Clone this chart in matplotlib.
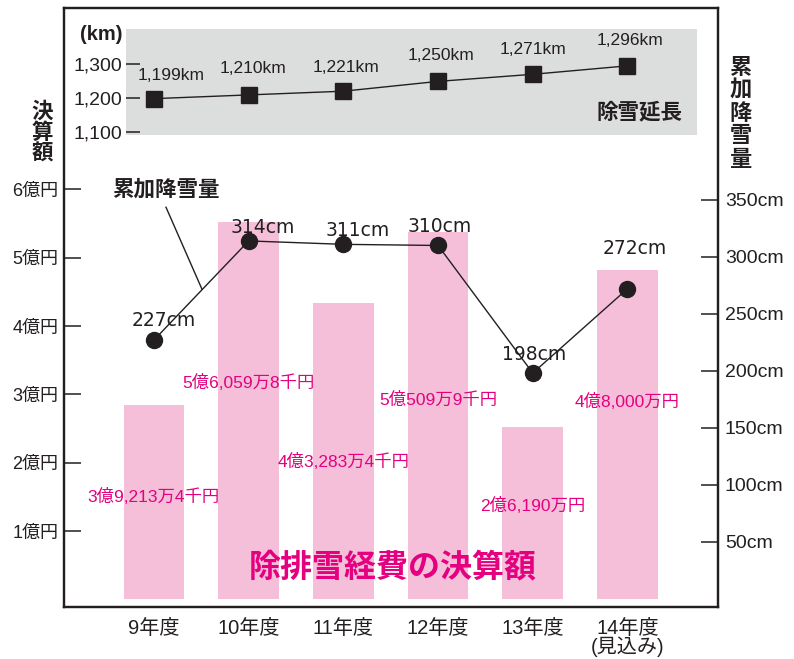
import matplotlib
matplotlib.use("Agg")
import matplotlib.pyplot as plt
from matplotlib import font_manager

# fonts: narrow latin for numbers if we have it, CJK fallback
names = {f.name for f in font_manager.fontManager.ttflist}
num_font = "Liberation Sans Narrow" if "Liberation Sans Narrow" in names else "Liberation Sans"
FAM = [num_font, "Noto Sans CJK JP", "DejaVu Sans"]
CJK = ["Noto Sans CJK JP", "DejaVu Sans"]
plt.rcParams["font.family"] = FAM

# data
years = ["9年度", "10年度", "11年度", "12年度", "13年度", "14年度\n(見込み)"]
cost_drawn = [2.84, 5.52, 4.34, 5.38, 2.52, 4.82]          # bar heights as drawn (億円)
cost_labels = ["3億9,213万4千円", "5億6,059万8千円", "4億3,283万4千円",
               "5億509万9千円", "2億6,190万円", "4億8,000万円"]
snow_cm = [227, 314, 311, 310, 198, 272]
road_km = [1199, 1210, 1221, 1250, 1271, 1296]

# layout of value labels
cost_label_y = [1.50, 3.17, 2.02, 2.92, 1.38, 2.89]
snow_off = [(7, 14), (10, 10), (10, 10), (1, 14), (1, 13), (5, 29)]
km_off = [(12, 17), (3, 19), (2, 17), (2, 19), (0, 18), (2, 18)]

DARK = "#231f20"
PINK = "#f5bfd9"
MAGENTA = "#e4007f"
GREY = "#dcdddd"

fig = plt.figure(figsize=(7.94, 6.59), dpi=100)
ax = fig.add_axes([64 / 794, 52 / 659, 654 / 794, 599 / 659])
x = list(range(len(years)))

ax.bar(x, cost_drawn, width=0.64, color=PINK, zorder=1)
ax.set_xlim(-0.950, 5.956)
ax.set_ylim(-0.111, 8.656)
ax.set_yticks([1, 2, 3, 4, 5, 6])
ax.set_yticklabels([f"{i}億円" for i in range(1, 7)], fontsize=13, color=DARK)
ax.tick_params(axis="y", direction="in", length=12, width=1.1, pad=4, color=DARK)
ax.set_xticks(x)
ax.set_xticklabels(years, fontsize=14.5, color=DARK, linespacing=0.9, va="top")
ax.tick_params(axis="x", length=0, pad=9)
for s in ax.spines.values():
    s.set_linewidth(1.6)
    s.set_color(DARK)

for xi, lab, ly in zip(x, cost_labels, cost_label_y):
    ax.text(xi, ly, lab, color=MAGENTA, fontsize=12.5, ha="center", va="center")

ax.text(2.52, 0.47, "除排雪経費の決算額", color=MAGENTA, fontsize=23,
        fontweight="bold", ha="center", va="center", family=CJK)

# left axis title
fig.text(42 / 794, 1 - 132 / 659, "決\n算\n額", fontsize=15.5, fontweight="bold",
         color=DARK, ha="center", va="center", linespacing=1.0, family=CJK)

# right axis: snowfall
ax2 = ax.twinx()
ax2.set_ylim(-7.4, 518.5)
ax2.set_yticks([50, 100, 150, 200, 250, 300, 350])
ax2.set_yticklabels([f"{v}cm" for v in [50, 100, 150, 200, 250, 300, 350]],
                    fontsize=14, color=DARK)
ax2.tick_params(axis="y", direction="in", length=12, width=1.1, pad=5, color=DARK)
for s in ax2.spines.values():
    s.set_linewidth(1.6)
    s.set_color(DARK)
ax2.plot(x, snow_cm, color=DARK, lw=1.0, marker="o", markersize=11.5, zorder=3)
for xi, v, off in zip(x, snow_cm, snow_off):
    ax2.annotate(f"{v}cm", (xi, v), xytext=off, textcoords="offset points",
                 ha="center", va="center", fontsize=13.5, color=DARK,
                 family=["DejaVu Sans"])

fig.text(741 / 794, 1 - 113 / 659, "累\n加\n降\n雪\n量", fontsize=16, fontweight="bold",
         color=DARK, ha="center", va="center", linespacing=1.0, family=CJK)

# leader for 累加降雪量
ax.plot([0.127, 0.507], [5.74, 4.54], color=DARK, lw=1.0, zorder=4)
ax.text(0.127, 6.0, "累加降雪量", fontsize=15.5, fontweight="bold", color=DARK,
        ha="center", va="center", family=CJK)

# inset: road length
ax3 = fig.add_axes([126 / 794, 1 - 135 / 659, 571 / 794, 106 / 659])
ax3.set_facecolor(GREY)
ax3.set_xlim(-0.296, 5.734)
ax3.set_ylim(1091.4, 1405)
for s in ax3.spines.values():
    s.set_visible(False)
ax3.set_xticks([])
ax3.set_yticks([1100, 1200, 1300])
ax3.set_yticklabels(["1,100", "1,200", "1,300"], fontsize=14, color=DARK)
ax3.tick_params(axis="y", direction="in", length=10, width=1.1, pad=3, color=DARK)
ax3.plot(x, road_km, color=DARK, lw=1.0, marker="s", markersize=11.5)
for xi, v, off in zip(x, road_km, km_off):
    ax3.annotate(f"{v:,}km", (xi, v), xytext=off, textcoords="offset points",
                 ha="center", va="center", fontsize=12.5, color=DARK)
ax3.text(0.975, 0.22, "除雪延長", transform=ax3.transAxes, fontsize=15.5,
         fontweight="bold", color=DARK, ha="right", va="center", family=CJK)
fig.text(101 / 794, 1 - 35 / 659, "(km)", fontsize=14.5, fontweight="bold",
         color=DARK, ha="center", va="center")

fig.savefig("out.png", dpi=100)
